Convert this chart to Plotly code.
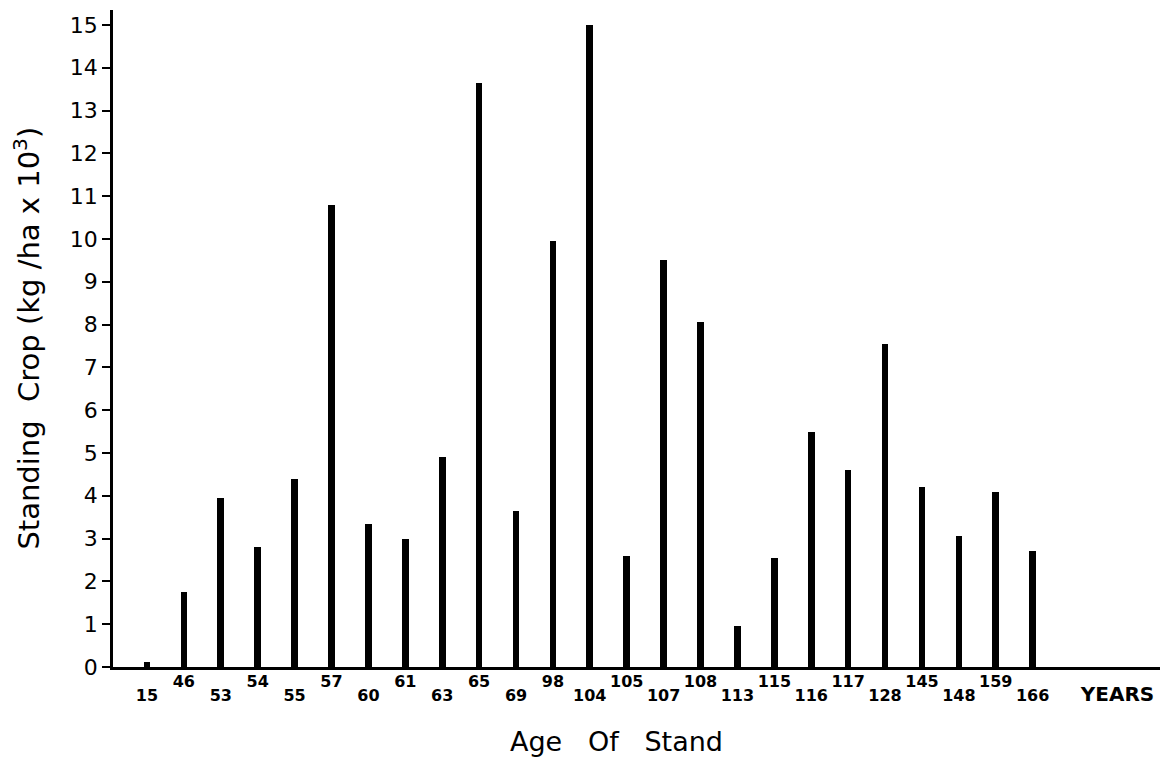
import plotly.graph_objects as go

# ---- data ----
ages = ["15", "46", "53", "54", "55", "57", "60", "61", "63", "65", "69", "98", "104",
        "105", "107", "108", "113", "115", "116", "117", "128", "145", "148", "159", "166"]
standing_crop = [0.12, 1.75, 3.95, 2.8, 4.4, 10.8, 3.35, 3.0, 4.9, 13.65, 3.65, 9.95, 15.0,
                 2.6, 9.5, 8.05, 0.95, 2.55, 5.5, 4.6, 7.55, 4.2, 3.05, 4.1, 2.7]
y_ticks = list(range(0, 16))
unit_label = "YEARS"
x_title = "Age\u00a0\u00a0\u00a0Of\u00a0\u00a0\u00a0Stand"
y_title = "Standing\u00a0\u00a0Crop\u00a0(kg\u00a0/ha\u00a0x\u00a010<sup>3</sup>)"

pos = list(range(len(ages)))
low_vals = [p for p in pos if p % 2 == 0] + [len(ages) + 1.3]
low_text = [ages[p] for p in pos if p % 2 == 0] + \
           ['<span style="font-size:20px">' + unit_label + '</span>']
high_vals = [p for p in pos if p % 2 == 1]
high_text = [ages[p] for p in pos if p % 2 == 1]

FONT = "DejaVu Sans"
xr = [-0.92, 27.45]
tickfont_x = dict(size=16, family=FONT, weight="bold", color="black")

fig = go.Figure()
fig.add_trace(go.Bar(x=pos, y=standing_crop, width=0.18,
                     marker=dict(color="black", line=dict(width=0)),
                     showlegend=False, hoverinfo="x+y"))
fig.add_trace(go.Scatter(x=[0], y=[0], xaxis="x2", mode="markers",
                         marker=dict(opacity=0), showlegend=False, hoverinfo="skip"))

# the page body adds an 8px offset, so the figure is 8px smaller than the window
fig.update_layout(
    width=1165, height=750,
    margin=dict(l=105, r=13, t=2, b=91, autoexpand=False),
    paper_bgcolor="white", plot_bgcolor="white",
    font=dict(family=FONT, color="black"),
    bargap=0,
    xaxis=dict(
        range=xr, showgrid=False, zeroline=False, automargin=False,
        showline=True, linecolor="black", linewidth=2.5,
        tickmode="array", tickvals=low_vals, ticktext=low_text,
        ticks="", ticklabelstandoff=12, tickfont=tickfont_x,
    ),
    xaxis2=dict(
        range=xr, overlaying="x", side="bottom", anchor="y", automargin=False,
        showgrid=False, zeroline=False, showline=False,
        tickmode="array", tickvals=high_vals, ticktext=high_text,
        ticks="", ticklabelstandoff=3, tickfont=tickfont_x,
    ),
    yaxis=dict(
        range=[0, 15.35], showgrid=False, zeroline=False, automargin=False,
        showline=True, linecolor="black", linewidth=2.5,
        tickmode="array", tickvals=y_ticks,
        ticks="outside", ticklen=8, tickwidth=2, tickcolor="black",
        tickfont=dict(size=22, family=FONT, color="black"),
    ),
    annotations=[
        dict(text=x_title, xref="paper", yref="paper", x=0.481, y=-0.113,
             xanchor="center", yanchor="middle", showarrow=False,
             font=dict(size=27, family=FONT, color="black")),
        dict(text=y_title, xref="paper", yref="paper", x=-0.083, y=0.5,
             xanchor="center", yanchor="middle", textangle=-90, showarrow=False,
             font=dict(size=29, family=FONT, color="black")),
    ],
)

fig.write_html("out.html")
